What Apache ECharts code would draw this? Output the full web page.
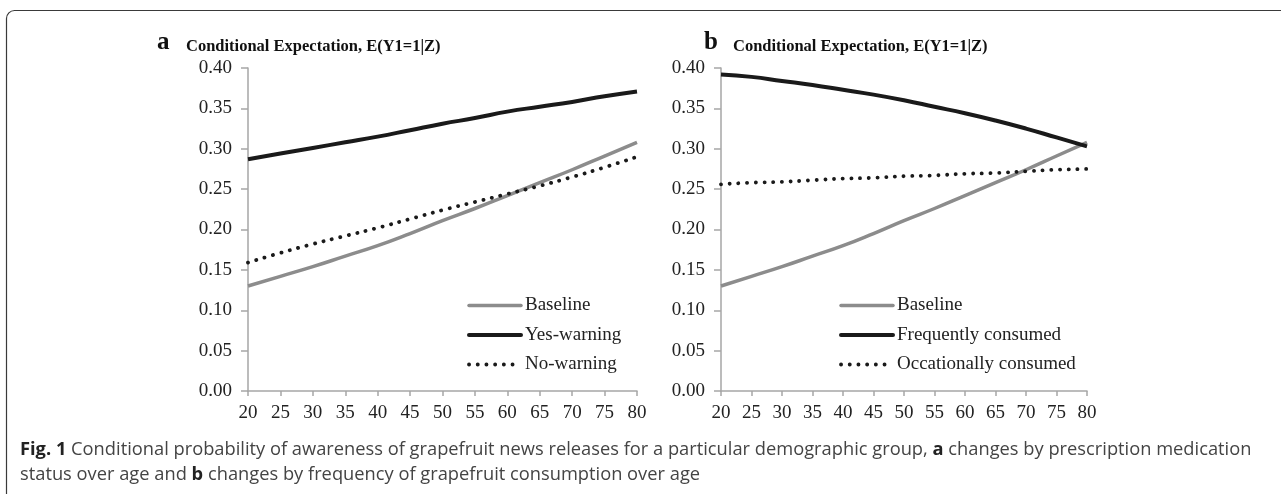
<!DOCTYPE html>
<html>
<head>
<meta charset="utf-8">
<script src="https://cdn.jsdelivr.net/npm/echarts@6/dist/echarts.min.js"></script>
<style>
  html, body { margin: 0; padding: 0; background: #fff; }
  #chart { width: 1281px; height: 494px; }
</style>
</head>
<body>
<div id="chart"></div>
<script>
  // ages on the x axis
  var ages = [20, 25, 30, 35, 40, 45, 50, 55, 60, 65, 70, 75, 80];
  var yTicks = ['0.00', '0.05', '0.10', '0.15', '0.20', '0.25', '0.30', '0.35', '0.40'];

  // panel a
  var baseline = [0.130, 0.142, 0.154, 0.167, 0.180, 0.195, 0.211, 0.226, 0.242, 0.258, 0.274, 0.291, 0.308];
  var yesWarning = [0.287, 0.294, 0.301, 0.308, 0.315, 0.323, 0.331, 0.338, 0.346, 0.352, 0.358, 0.365, 0.371];
  var noWarning = [0.159, 0.171, 0.182, 0.192, 0.202, 0.213, 0.224, 0.234, 0.244, 0.254, 0.265, 0.277, 0.290];

  // panel b
  var frequently = [0.392, 0.389, 0.384, 0.379, 0.373, 0.367, 0.360, 0.352, 0.344, 0.335, 0.325, 0.314, 0.303];
  var occasionally = [0.256, 0.258, 0.259, 0.261, 0.263, 0.264, 0.266, 0.267, 0.269, 0.270, 0.272, 0.274, 0.275];

  var titleText = 'Conditional Expectation, E(Y1=1|Z)';
  var serif = '"Liberation Serif", "Times New Roman", serif';
  var sans = '"Open Sans", "Noto Sans", sans-serif';

  function pairs(vals) {
    return ages.map(function (a, i) { return [a, vals[i]]; });
  }

  var myChart = echarts.init(document.getElementById('chart'));

  function xAxisOf(idx) {
    return {
      type: 'value', gridIndex: idx, min: 20, max: 80, interval: 5,
      axisLine: { show: true, lineStyle: { color: '#a6a6a6', width: 1.5 } },
      axisTick: { show: true, length: 5, lineStyle: { color: '#a6a6a6', width: 1.5 } },
      axisLabel: { color: '#222', fontFamily: serif, fontSize: 19, margin: 13 },
      splitLine: { show: false }
    };
  }
  function yAxisOf(idx) {
    return {
      type: 'value', gridIndex: idx, min: 0, max: 0.4, interval: 0.05,
      axisLine: { show: true, lineStyle: { color: '#a6a6a6', width: 1.5 } },
      axisTick: { show: true, length: 7, lineStyle: { color: '#a6a6a6', width: 1.5 } },
      axisLabel: {
        color: '#222', fontFamily: serif, fontSize: 19, margin: 16,
        formatter: function (v) { return yTicks[Math.round(v / 0.05)]; }
      },
      splitLine: { show: false }
    };
  }

  var grayLine = { color: '#8c8c8c', width: 3.5 };
  var blackLine = { color: '#1a1a1a', width: 4 };
  var dotLine = { color: '#1a1a1a', width: 3.8, type: [0.1, 8.6], cap: 'round' };

  function line(name, vals, xi, style) {
    return {
      name: name, type: 'line', xAxisIndex: xi, yAxisIndex: xi,
      data: pairs(vals), symbol: 'none', smooth: true, lineStyle: style,
      itemStyle: { color: style.color }, animation: false
    };
  }

  var legendBase = {
    orient: 'vertical', itemWidth: 52, itemHeight: 12, itemGap: 10.5, padding: 0,
    textStyle: { fontFamily: serif, fontSize: 19, color: '#222', padding: [0, 0, 0, -1] },
    itemStyle: { opacity: 0 },
    lineStyle: { width: 'inherit', type: 'inherit', cap: 'round' },
    selectedMode: false
  };

  var option = {
    animation: false,
    grid: [
      { left: 248, top: 68, width: 389, height: 323 },
      { left: 721, top: 68, width: 366, height: 323 }
    ],
    xAxis: [xAxisOf(0), xAxisOf(1)],
    yAxis: [yAxisOf(0), yAxisOf(1)],
    legend: [
      Object.assign({}, legendBase, { left: 467, top: 296, data: ['Baseline', 'Yes-warning', 'No-warning'] }),
      Object.assign({}, legendBase, { left: 839, top: 296, data: ['Baseline', 'Frequently consumed', 'Occationally consumed'] })
    ],
    series: [
      line('Baseline', baseline, 0, grayLine),
      line('Yes-warning', yesWarning, 0, blackLine),
      line('No-warning', noWarning, 0, dotLine),
      line('Baseline', baseline, 1, grayLine),
      line('Frequently consumed', frequently, 1, blackLine),
      line('Occationally consumed', occasionally, 1, dotLine)
    ],
    graphic: [
      {
        type: 'rect', left: 4, top: 8, silent: true,
        shape: { width: 1300, height: 500, r: 8 },
        style: { fill: 'none', stroke: '#3a3a3a', lineWidth: 1.2 }
      },
      { type: 'text', left: 157, top: 30, style: { text: 'a', font: 'bold 25px ' + serif, fill: '#111' } },
      { type: 'text', left: 186, top: 38, style: { text: titleText, font: 'bold 16.5px ' + serif, fill: '#111' } },
      { type: 'text', left: 704, top: 30, style: { text: 'b', font: 'bold 25px ' + serif, fill: '#111' } },
      { type: 'text', left: 733, top: 38, style: { text: titleText, font: 'bold 16.5px ' + serif, fill: '#111' } },
      {
        type: 'text', left: 20, top: 437,
        style: {
          text: '{b|Fig. 1} Conditional probability of awareness of grapefruit news releases for a particular demographic group, {b|a} changes by prescription medication\nstatus over age and {b|b} changes by frequency of grapefruit consumption over age',
          font: '18.3px ' + sans,
          fill: '#444', lineHeight: 25,
          rich: {
            b: { fontWeight: 'bold', fontSize: 18.3, fontFamily: sans, fill: '#222' }
          }
        }
      }
    ]
  };

  myChart.setOption(option);
</script>
</body>
</html>
